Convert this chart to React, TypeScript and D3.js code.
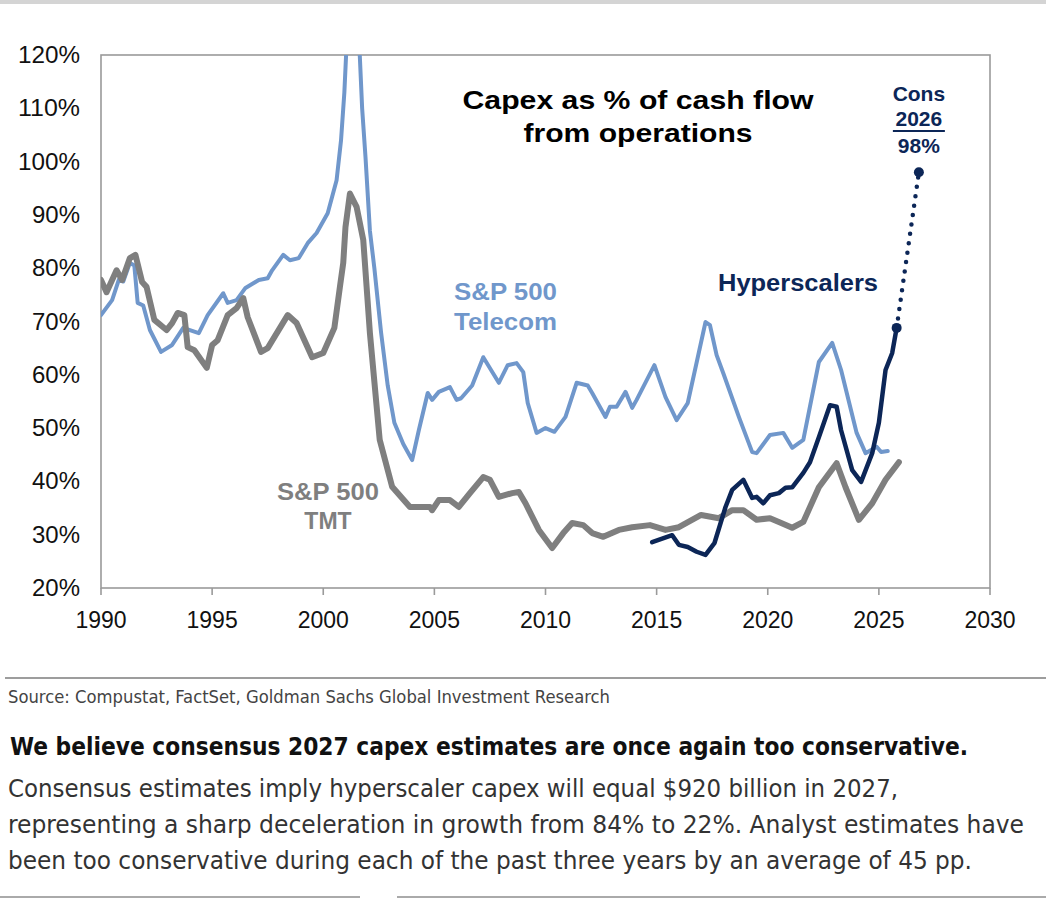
import React from 'react';
import * as d3 from 'd3';

// [year, capex as % of CFO]
const telecom: [number, number][] = [
  [1990.0, 71.2], [1990.5, 74], [1990.8, 77.8], [1991.0, 77.5], [1991.3, 81], [1991.5, 80.5],
  [1991.65, 73.5], [1991.9, 73], [1992.2, 68.4], [1992.7, 64.3], [1993.2, 65.6], [1993.7, 68.8],
  [1994.4, 67.8], [1994.8, 71.2], [1995.5, 75.3], [1995.7, 73.5], [1996.1, 74], [1996.5, 76.3],
  [1997.1, 77.8], [1997.5, 78.1], [1997.7, 79.6], [1998.2, 82.5], [1998.5, 81.5], [1998.9, 81.9],
  [1999.3, 84.7], [1999.7, 86.6], [2000.2, 90.3], [2000.4, 93.4], [2000.6, 96.5], [2000.8, 104],
  [2000.95, 113], [2001.05, 122], [2001.3, 140], [2001.6, 124], [2001.75, 110], [2001.9, 100.9],
  [2002.1, 87], [2002.3, 80], [2002.6, 68], [2002.9, 58], [2003.2, 51], [2003.6, 47],
  [2004.0, 44], [2004.3, 49.6], [2004.7, 56.6], [2004.9, 55.3], [2005.2, 56.8], [2005.7, 57.7],
  [2006.0, 55.3], [2006.2, 55.6], [2006.7, 58], [2007.2, 63.3], [2007.9, 58.5], [2008.3, 61.8],
  [2008.7, 62.2], [2009.0, 60.5], [2009.2, 54.7], [2009.6, 49.1], [2010.0, 50], [2010.4, 49.3],
  [2010.9, 52.1], [2011.4, 58.5], [2011.9, 58], [2012.1, 56.6], [2012.7, 52.1], [2012.9, 54],
  [2013.2, 54], [2013.6, 56.8], [2013.9, 53.8], [2014.1, 55.3], [2014.9, 61.8], [2015.4, 55.8],
  [2015.9, 51.5], [2016.4, 54.7], [2017.2, 69.9], [2017.4, 69.3], [2017.7, 63.7], [2018.0, 60.3],
  [2018.7, 52.1], [2019.3, 45.5], [2019.5, 45.3], [2020.1, 48.7], [2020.7, 49.1], [2021.1, 46.3],
  [2021.6, 47.8], [2022.3, 62.4], [2022.9, 66], [2023.3, 60.9], [2024.0, 49.1], [2024.4, 45.3],
  [2024.9, 46.5], [2025.1, 45.5], [2025.4, 45.7],
];

const tmt: [number, number][] = [
  [1990.0, 77.8], [1990.25, 75.5], [1990.7, 79.6], [1990.95, 77.8], [1991.3, 81.9], [1991.55, 82.5],
  [1991.85, 77.4], [1992.05, 76.5], [1992.4, 70.3], [1992.95, 68.4], [1993.2, 69.7], [1993.45, 71.6],
  [1993.75, 71.2], [1993.9, 65.2], [1994.2, 64.6], [1994.76, 61.3], [1995.0, 65.6], [1995.25, 66.5],
  [1995.7, 71.2], [1996.1, 72.5], [1996.4, 74.4], [1996.6, 70.8], [1997.2, 64.3], [1997.5, 65],
  [1998.4, 71.2], [1998.8, 69.7], [1999.5, 63.3], [2000.0, 64.1], [2000.5, 68.8], [2000.75, 76.5],
  [2000.9, 81], [2001.0, 87.7], [2001.2, 94], [2001.5, 91.5], [2001.8, 85.3], [2002.1, 67.8],
  [2002.54, 47.8], [2003.1, 39], [2003.9, 35.2], [2004.8, 35.2], [2004.9, 34.6], [2005.2, 36.5],
  [2005.7, 36.5], [2006.1, 35.2], [2006.6, 37.8], [2007.2, 40.8], [2007.5, 40.3], [2007.9, 37.1],
  [2008.5, 37.8], [2008.8, 38], [2009.1, 35.9], [2009.7, 30.9], [2010.3, 27.5], [2010.8, 30.3],
  [2011.2, 32.2], [2011.7, 31.8], [2012.1, 30.3], [2012.6, 29.6], [2013.3, 30.9], [2013.9, 31.4],
  [2014.7, 31.8], [2015.4, 30.9], [2016.0, 31.4], [2017.0, 33.7], [2017.8, 33.1], [2018.4, 34.6],
  [2018.9, 34.6], [2019.5, 32.8], [2020.1, 33.1], [2020.5, 32.4], [2021.1, 31.3], [2021.6, 32.4],
  [2022.3, 38.9], [2023.1, 43.4], [2023.5, 38.9], [2024.1, 32.8], [2024.7, 35.9], [2025.3, 40.3],
  [2025.9, 43.6],
];

const hyperscalers: [number, number][] = [
  [2014.8, 28.6], [2015.7, 29.9], [2016.0, 28.1], [2016.4, 27.7], [2016.8, 26.8], [2017.2, 26.2],
  [2017.6, 28.4], [2018.1, 35.2], [2018.4, 38.4], [2018.9, 40.3], [2019.3, 36.9], [2019.5, 37.1],
  [2019.8, 35.9], [2020.1, 37.4], [2020.5, 37.8], [2020.8, 38.8], [2021.1, 38.9], [2021.6, 41.6],
  [2021.9, 43.6], [2022.3, 48.3], [2022.8, 54.3], [2023.1, 54], [2023.3, 49.6], [2023.8, 42.1],
  [2024.2, 39.9], [2024.7, 45.3], [2025.0, 51], [2025.3, 60.9], [2025.6, 64.1], [2025.8, 68.8],
];

// consensus estimate for 2026, joined to the last actual point
const consensus: [number, number][] = [[2025.8, 68.8], [2026.8, 98]];

const yearTicks = [1990, 1995, 2000, 2005, 2010, 2015, 2020, 2025, 2030];
const pctTicks = [20, 30, 40, 50, 60, 70, 80, 90, 100, 110, 120];

const noteLines = [
  'Consensus estimates imply hyperscaler capex will equal $920 billion in 2027,',
  'representing a sharp deceleration in growth from 84% to 22%. Analyst estimates have',
  'been too conservative during each of the past three years by an average of 45 pp.',
];
const noteWidths = [890, 1016, 964];

const W = 1046;
const H = 900;
const left = 101, right = 990, top = 55, bottom = 588;

const x = d3.scaleLinear().domain([1990, 2030]).range([left, right]);
const y = d3.scaleLinear().domain([20, 120]).range([bottom, top]);

const line = d3.line<[number, number]>()
  .x(d => x(d[0]))
  .y(d => y(d[1]));

const NAVY = '#0c2657';
const BLUE = '#7097cb';
const GREY = '#7f7f7f';
const AXIS = '#9a9a9a';
const chartFont = '"Liberation Sans", Arial, sans-serif';
const noteFont = '"Liberation Sans Narrow", "DejaVu Sans Condensed", "Liberation Sans", sans-serif';

export default function App() {
  const last = consensus[consensus.length - 1];
  return (
    <svg width={W} height={H} viewBox={`0 0 ${W} ${H}`}
      style={{ position: 'absolute', left: 0, top: 0, background: '#fff' }}>
      <defs>
        <clipPath id="plot">
          <rect x={left} y={top} width={right - left} height={bottom - top} />
        </clipPath>
      </defs>

      <rect x={0} y={0} width={W} height={4} fill="#d4d4d4" />

      {/* frame and ticks */}
      <rect x={left} y={top} width={right - left} height={bottom - top}
        fill="none" stroke={AXIS} strokeWidth={1.6} />
      {yearTicks.map(t => (
        <g key={t}>
          <line x1={x(t)} x2={x(t)} y1={bottom} y2={bottom + 7} stroke={AXIS} strokeWidth={1.6} />
          <text x={x(t)} y={628} textAnchor="middle" fontFamily={chartFont} fontSize={23} fill="#111">{t}</text>
        </g>
      ))}
      {pctTicks.map(t => (
        <text key={t} x={80} y={y(t) + 8} textAnchor="end" fontFamily={chartFont} fontSize={23} fill="#111"
          textLength={t >= 100 ? 62 : 48} lengthAdjust="spacingAndGlyphs">{t}%</text>
      ))}

      {/* series */}
      <g clipPath="url(#plot)" fill="none" strokeLinejoin="round" strokeLinecap="round">
        <path d={line(telecom) || ''} stroke={BLUE} strokeWidth={4} />
        <path d={line(tmt) || ''} stroke={GREY} strokeWidth={6} />
        <path d={line(hyperscalers) || ''} stroke={NAVY} strokeWidth={4.5} />
      </g>
      <path d={line(consensus) || ''} fill="none" stroke={NAVY} strokeWidth={4.5}
        strokeDasharray="0 9.5" strokeLinecap="round" />
      {consensus.map((p, i) => (
        <circle key={i} cx={x(p[0])} cy={y(p[1])} r={5} fill={NAVY} />
      ))}

      {/* labels */}
      <g fontFamily={chartFont} fontWeight="bold">
        <text x={638} y={109} textAnchor="middle" fontSize={26} fill="#000" textLength={351} lengthAdjust="spacingAndGlyphs">Capex as % of cash flow</text>
        <text x={638} y={142} textAnchor="middle" fontSize={26} fill="#000" textLength={229} lengthAdjust="spacingAndGlyphs">from operations</text>

        <text x={454} y={300} fontSize={23} fill={BLUE} textLength={103} lengthAdjust="spacingAndGlyphs">S&amp;P 500</text>
        <text x={454} y={330} fontSize={23} fill={BLUE} textLength={103} lengthAdjust="spacingAndGlyphs">Telecom</text>

        <text x={328} y={500} textAnchor="middle" fontSize={23} fill={GREY} textLength={102} lengthAdjust="spacingAndGlyphs">S&amp;P 500</text>
        <text x={328} y={529} textAnchor="middle" fontSize={23} fill={GREY}>TMT</text>

        <text x={718} y={291} fontSize={23} fill={NAVY} textLength={160} lengthAdjust="spacingAndGlyphs">Hyperscalers</text>

        <text x={x(last[0])} y={101} textAnchor="middle" fontSize={21} fill={NAVY}>Cons</text>
        <text x={x(last[0])} y={126} textAnchor="middle" fontSize={21} fill={NAVY}>2026</text>
        <line x1={x(last[0]) - 26} x2={x(last[0]) + 26} y1={131} y2={131} stroke={NAVY} strokeWidth={2} />
        <text x={x(last[0])} y={153} textAnchor="middle" fontSize={21} fill={NAVY}>{last[1]}%</text>
      </g>

      {/* source and note */}
      <line x1={5} x2={W} y1={678} y2={678} stroke="#9d9d9d" strokeWidth={2} />
      <text x={8} y={703} fontFamily={noteFont} fontSize={17} fill="#444" textLength={602} lengthAdjust="spacingAndGlyphs">
        Source: Compustat, FactSet, Goldman Sachs Global Investment Research
      </text>
      <text x={10} y={755} fontFamily={noteFont} fontWeight="bold" fontSize={25} fill="#111" textLength={958} lengthAdjust="spacingAndGlyphs">
        We believe consensus 2027 capex estimates are once again too conservative.
      </text>
      {noteLines.map((s, i) => (
        <text key={i} x={8} y={797 + i * 36} fontFamily={noteFont} fontSize={25} fill="#333"
          textLength={noteWidths[i]} lengthAdjust="spacingAndGlyphs">{s}</text>
      ))}
      <line x1={0} x2={360} y1={897} y2={897} stroke="#aaa" strokeWidth={2} />
      <line x1={397} x2={W} y1={897} y2={897} stroke="#aaa" strokeWidth={2} />
    </svg>
  );
}
